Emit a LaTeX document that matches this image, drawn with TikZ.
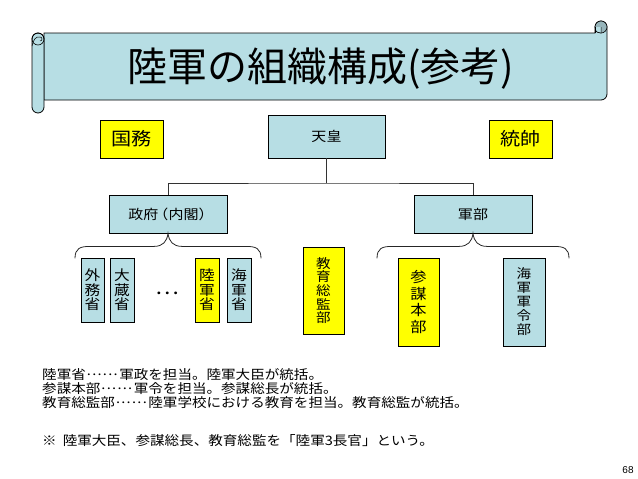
\documentclass[tikz,border=0pt]{standalone}
\usepackage{fontspec}
\setmainfont{Liberation Sans}
\newfontfamily\jp[FakeStretch=1.12]{Noto Sans CJK JP}
\newfontfamily\jptitle{Noto Sans CJK JP}
\newcommand{\mydt}{\raisebox{0.3em}{.}}
\newcommand{\myellip}{\kern0.08em\mydt\kern0.1em\mydt\kern0.1em\mydt\kern0.1em\mydt\kern0.1em\mydt\kern0.1em\mydt\kern0.12em}
\definecolor{lb}{RGB}{183,222,228}
\definecolor{yl}{RGB}{255,255,0}
\definecolor{curlc}{RGB}{150,180,186}
\begin{document}
\begin{tikzpicture}[x=1pt,y=-1pt,
  box/.style={draw=black, line width=0.8pt, inner sep=0pt, align=center,
    font=\jp\fontsize{13.4}{15}\selectfont},
  vbox/.style={box, font=\jp\fontsize{14}{14.5}\selectfont},
  bigbox/.style={box, font=\jp\fontsize{18}{20}\selectfont},
  conn/.style={draw=black!80, line width=0.8pt},
  brace/.style={draw=black!85, line width=0.8pt},
  note/.style={anchor=west, inner sep=0pt, text height=10pt, text depth=1.5pt,
    font=\jp\fontsize{13}{13}\selectfont}]
\useasboundingbox (0,0) rectangle (638,479);

% scroll banner
\path[fill=lb, draw=black, line width=0.8pt]
  (44,33) -- (595,33) -- (595,27) arc (180:360:6) -- (607,94) arc (0:90:6) -- (44,100) -- cycle;
\path[fill=curlc, draw=black, line width=0.6pt] (601,27) circle (6);
\path[fill=lb] (601,27) -- (595,27) arc (180:90:6) -- cycle;
\draw[line width=0.6pt] (595,27) -- (595,33);
\draw[line width=0.5pt] (601,27) -- (601,33) .. controls (598,33) and (596,32) .. (595,30);
\path[fill=lb, draw=black, line width=0.8pt, rounded corners=6] (32,33) rectangle (44,113);
\draw[line width=0.6pt] (38,39) circle (6);
\draw[line width=0.5pt] (32,46) .. controls (33,40) and (36,36) .. (40,37) arc (270:450:2) -- (40,41);
\node[inner sep=0pt, font=\jptitle\fontsize{40}{44}\selectfont] (title) at (321,69) {陸軍の組織構成(参考)};

% top row
\node[bigbox, fill=yl, minimum width=63, minimum height=38] (kokumu) at (131.5,139) {国務};
\node[box, fill=lb, minimum width=117, minimum height=43] (tenno) at (326.5,136.5) {天皇};
\node[bigbox, fill=yl, minimum width=63, minimum height=38] (tosui) at (520.5,139) {統帥};

% second row
\node[box, fill=lb, minimum width=118, minimum height=38] (seifu) at (168,214) {政府\kern-5pt（内閣）\kern-6pt};
\node[box, fill=lb, minimum width=118, minimum height=38] (gunbu) at (473,214) {軍部};

\coordinate (j) at (326.5,183);
\draw[conn] (tenno.south) -- (j);
\draw[conn] (seifu.north) |- (j) -| (gunbu.north);

% braces
\draw[brace] ([shift={(-93,25)}]seifu.south) .. controls ([shift={(-93,15)}]seifu.south) and ([shift={(-88,13)}]seifu.south) .. ([shift={(-78,13)}]seifu.south)
  -- ([shift={(-14,13)}]seifu.south) .. controls ([shift={(-5,13)}]seifu.south) and ([shift={(-1,8)}]seifu.south) .. (seifu.south)
  .. controls ([shift={(1,8)}]seifu.south) and ([shift={(5,13)}]seifu.south) .. ([shift={(14,13)}]seifu.south)
  -- ([shift={(78,13)}]seifu.south) .. controls ([shift={(88,13)}]seifu.south) and ([shift={(93,15)}]seifu.south) .. ([shift={(93,25)}]seifu.south);
\draw[brace] ([shift={(-96,25)}]gunbu.south) .. controls ([shift={(-96,15)}]gunbu.south) and ([shift={(-91,13)}]gunbu.south) .. ([shift={(-81,13)}]gunbu.south)
  -- ([shift={(-14,13)}]gunbu.south) .. controls ([shift={(-5,13)}]gunbu.south) and ([shift={(-1,8)}]gunbu.south) .. (gunbu.south)
  .. controls ([shift={(1,8)}]gunbu.south) and ([shift={(5,13)}]gunbu.south) .. ([shift={(14,13)}]gunbu.south)
  -- ([shift={(81,13)}]gunbu.south) .. controls ([shift={(91,13)}]gunbu.south) and ([shift={(96,15)}]gunbu.south) .. ([shift={(96,25)}]gunbu.south);

% ministries
\node[vbox, fill=lb, minimum width=23, minimum height=64] (gaimu) at (92.5,290) {外\\務\\省};
\node[vbox, fill=lb, minimum width=24, minimum height=64] (okura) at (122,290) {大\\蔵\\省};
\node[inner sep=0pt, font=\jp\fontsize{20}{22}\selectfont] (dots) at (167,293) {…};
\node[vbox, fill=yl, minimum width=24, minimum height=64] (rikugun) at (207,290) {陸\\軍\\省};
\node[vbox, fill=lb, minimum width=24, minimum height=64] (kaigun) at (239,290) {海\\軍\\省};

\node[vbox, fill=yl, minimum width=41, minimum height=87, font=\jp\fontsize{13}{13.6}\selectfont] (kyoiku) at (323.5,290.5) {教\\育\\総\\監\\部};
\node[vbox, fill=yl, minimum width=41, minimum height=88, font=\jp\fontsize{14.5}{16.5}\selectfont] (sanbo) at (418.5,302) {参\\謀\\本\\部};
\node[vbox, fill=lb, minimum width=42, minimum height=88, font=\jp\fontsize{13}{14}\selectfont] (gunrei) at (524,302) {海\\軍\\軍\\令\\部};

% notes
\node[note] (n1) at (42,375) {陸軍省\myellip 軍政を担当。陸軍大臣が統括。};
\node[note] (n2) at (42,389) {参謀本部\myellip 軍令を担当。参謀総長が統括。};
\node[note] (n3) at (42,403) {教育総監部\myellip 陸軍学校における教育を担当。教育総監が統括。};
\node[note] (n4) at (42,441) {※\hspace{6pt}陸軍大臣、参謀総長、教育総監を「陸軍3長官」という。};
\node[inner sep=0pt, font=\fontsize{10}{12}\selectfont] (page) at (628,470) {68};
\end{tikzpicture}
\end{document}
